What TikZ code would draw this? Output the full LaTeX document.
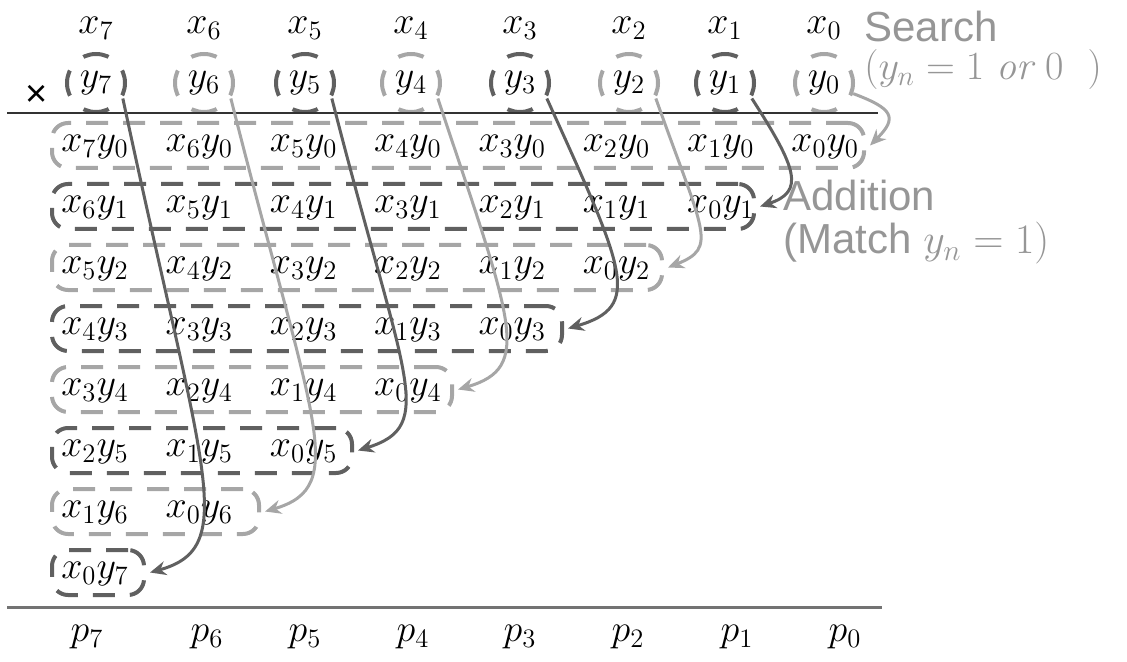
\RequirePackage{fix-cm}
\documentclass[tikz,border=0pt]{standalone}
\usepackage{fontspec}
\setsansfont{Liberation Sans}
\usetikzlibrary{arrows.meta}

\definecolor{dk}{RGB}{96,96,96}
\definecolor{lt}{RGB}{166,166,166}
\definecolor{notegray}{RGB}{150,150,150}

\begin{document}
\begin{tikzpicture}[
  x=0.5pt, y=-0.5pt,
  mth/.style={font=\fontsize{19}{22}\selectfont, inner sep=0pt},
  ycirc/.style={circle, draw, line width=2pt, minimum size=29pt, inner sep=0pt,
    font=\fontsize{19}{22}\selectfont,
    dash pattern=on 13pt off 9.78pt, dash phase=6.5pt},
  rowbox/.style={draw, line width=2pt, rounded corners=8pt, minimum height=22.5pt,
    inner sep=0pt, anchor=west, dash pattern=on 11pt off 7.5pt},
  arr/.style={-{Stealth[length=8pt,width=7pt]}, line width=1.5pt},
  notetxt/.style={font=\sffamily\fontsize{21}{24}\selectfont, text=notegray,
    inner sep=0pt, anchor=base west}
]
\useasboundingbox (0,0) rectangle (1127,662);

% operands
\foreach \n/\cx/\c in {7/96/dk, 6/204/lt, 5/305/dk, 4/411/lt,
                       3/520/dk, 2/629/lt, 1/725/dk, 0/824/lt} {
  \node[mth] (x\n) at (\cx,28) {$x_{\n}$};
  \node[ycirc, draw=\c] (y\n) at (\cx,83) {$y_{\n}$};
}
\node[mth] (times) at (37,96) {\sffamily ×};
\draw[line width=1pt, black!80] (7,113) -- (878,113);

% partial product rows
\foreach \k/\r/\c in {0/862/lt, 1/752/dk, 2/660/lt, 3/560/dk,
                      4/450/lt, 5/350/dk, 6/257/lt, 7/142/dk} {
  \node[rowbox, draw=\c, minimum width={(\r-50)*0.5pt}] (b\k) at (50,{145.5+61*\k}) {};
  \pgfmathtruncatemacro\last{7-\k}
  \foreach \j in {0,...,\last} {
    \pgfmathtruncatemacro\i{\last-\j}
    \node[mth] (m\k\j) at ({95+104.3*\j},{147+61*\k}) {$x_{\i}y_{\k}$};
  }
}

% result
\draw[line width=1.5pt, black!55] (7,607) -- (882,607);
\foreach \n/\cx in {7/87, 6/207, 5/305, 4/413, 3/520, 2/628, 1/737, 0/845}
  \node[mth] (p\n) at (\cx,637) {$p_{\n}$};

% search -> add
\draw[arr, lt] (y0.-20) .. controls +(40,15) and +(28,-28) .. ([xshift=2pt]b0.east);
\draw[arr, dk] (y1.-30) .. controls +(45,70) and +(45,-15) .. ([xshift=2pt]b1.east);
\draw[arr, lt] (y2.-30) .. controls +(48,135) and +(50,-20) .. ([xshift=2pt]b2.east);
\draw[arr, dk] (y3.-30) .. controls +(78,172) and +(75,-22) .. ([xshift=2pt]b3.east);
\draw[arr, lt] (y4.-30) .. controls +(75,225) and +(75,-22) .. ([xshift=2pt]b4.east);
\draw[arr, dk] (y5.-30) .. controls +(72,282) and +(80,-25) .. ([xshift=2pt]b5.east);
\draw[arr, lt] (y6.-30) .. controls +(82,325) and +(85,-25) .. ([xshift=2pt]b6.east);
\draw[arr, dk] (y7.-30) .. controls +(80,375) and +(90,-25) .. ([xshift=2pt]b7.east);

% notes
\node[notetxt] (srch) at (864,42) {Search};
\node[notetxt, font=\fontsize{20}{23}\selectfont] (cond) at (864,80)
  {$(y_n = 1\ \mathit{or}\ 0\ \ )$};
\node[notetxt] (add) at (783,211) {Addition};
\node[notetxt] (mtch) at (783,254) {(Match \fontsize{21}{24}\selectfont$y_n = 1)$};
\end{tikzpicture}
\end{document}
